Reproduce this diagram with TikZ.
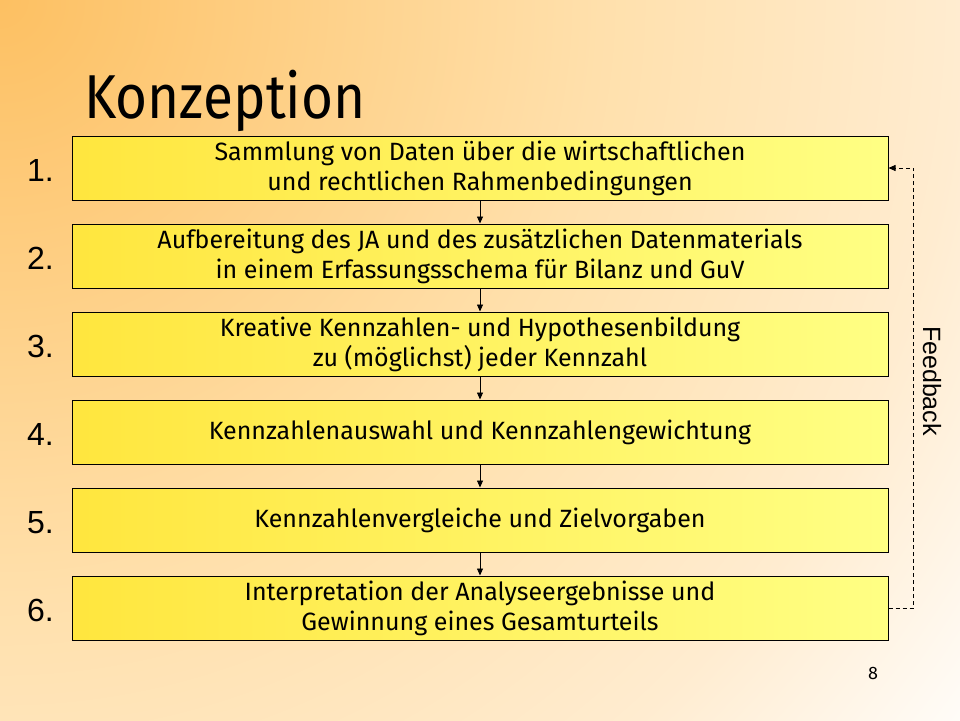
\documentclass[tikz,border=0pt]{standalone}
\usepackage{fontspec}
\setmainfont{Fira Sans}
\newfontfamily\arialfont{Liberation Sans}
\usetikzlibrary{arrows.meta}
\definecolor{bgorange}{RGB}{253,192,98}
\definecolor{bgpeach}{RGB}{255,224,172}
\definecolor{bglight}{RGB}{255,236,208}
\definecolor{bgwhite}{RGB}{255,252,248}
\definecolor{boxleft}{RGB}{255,230,62}
\definecolor{boxright}{RGB}{255,255,132}
\pgfdeclareradialshading{slidebg}{\pgfpoint{0bp}{0bp}}{%
    color(0bp)=(bgorange); color(12.5bp)=(bgpeach); color(20bp)=(bglight);
    color(25bp)=(bgwhite); color(50bp)=(bgwhite)}
\begin{document}
\begin{tikzpicture}[%
            x=1pt, y=1pt,
            stepbox/.style={draw=black, line width=1pt, left color=boxleft, right color=boxright,
                minimum width=816pt, minimum height=64pt, inner sep=0pt, align=center,
                font=\fontsize{25}{30}\selectfont},
            steplabel/.style={anchor=base west, inner sep=0pt, font=\arialfont\fontsize{32}{32}\selectfont},
            flow/.style={line width=0.8pt, -{Triangle[length=7pt, width=6pt]}}
        ]
        % background, lightest towards the lower right
        \begin{scope}
            \clip (0,0) rectangle (960,-720);
            \shade [shading=slidebg] (0,0) circle (1200);
        \end{scope}
        \useasboundingbox (0,0) rectangle (960,-720);

        \node [anchor=base west, inner sep=0pt, xscale=0.885, font=\fontsize{62}{62}\selectfont] (title) at (84,-118) {Konzeption};

        \node [stepbox] (s1) at (480,-168) {Sammlung von Daten über die wirtschaftlichen\\und rechtlichen Rahmenbedingungen};
        \node [stepbox] (s2) at (480,-256) {Aufbereitung des JA und des zusätzlichen Datenmaterials\\in einem Erfassungsschema für Bilanz und GuV};
        \node [stepbox] (s3) at (480,-344) {Kreative Kennzahlen- und Hypothesenbildung\\zu (möglichst) jeder Kennzahl};
        \node [stepbox] (s4) at (480,-432) {Kennzahlenauswahl und Kennzahlengewichtung};
        \node [stepbox] (s5) at (480,-520) {Kennzahlenvergleiche und Zielvorgaben};
        \node [stepbox] (s6) at (480,-608) {Interpretation der Analyseergebnisse und\\Gewinnung eines Gesamturteils};

        \foreach \i in {1,...,6}
            \node [steplabel] (n\i) at (27,-93-88*\i) {\i.};

        \foreach \i/\j in {1/2,2/3,3/4,4/5,5/6}
            \draw [flow] (s\i.south) -- (s\j.north);

        % feedback loop
        \draw [flow, dash pattern=on 4pt off 3pt] (s6.east) -- ++(25,0) |- (s1.east);
        \node [rotate=-90, font=\arialfont\fontsize{25}{25}\selectfont] (feedback) at (932,-381) {Feedback};

        \node [font=\fontsize{18}{18}\selectfont] (page) at (873,-673) {8};
    \end{tikzpicture}
\end{document}
